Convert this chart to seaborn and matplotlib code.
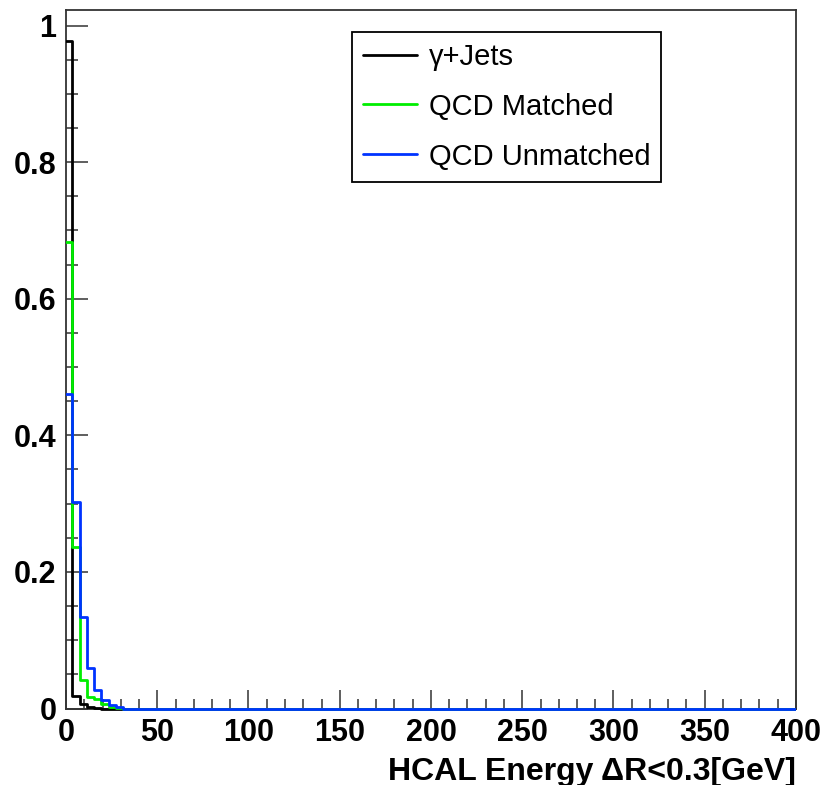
import numpy as np
import pandas as pd
import matplotlib
matplotlib.use("Agg")
import matplotlib.pyplot as plt
import seaborn as sns
from matplotlib.ticker import MultipleLocator
from matplotlib.lines import Line2D
from matplotlib.patches import Rectangle

# Normalised HCAL isolation energy distributions (fraction of events per 4 GeV bin)
sample_names = ["\u03b3+Jets", "QCD Matched", "QCD Unmatched"]
gamma_jets = [0.978, 0.018, 0.0066, 0.0026, 0.001]
qcd_matched = [0.683, 0.237, 0.042, 0.017, 0.0135, 0.0066, 0.0027, 0.001]
qcd_unmatched = [0.460, 0.303, 0.134, 0.059, 0.027, 0.0124, 0.005, 0.002]
line_colors = ["#000000", "#00ee00", "#0033ff"]

x_ticks = [0, 50, 100, 150, 200, 250, 300, 350, 400]
y_ticks = [0, 0.2, 0.4, 0.6, 0.8, 1]
x_label = "HCAL Energy \u0394R<0.3[GeV]"

# histogram binning
bin_width = 4.0
bin_start = -0.6
n_bins = 101
edges = bin_start + bin_width * np.arange(n_bins + 1)
centers = 0.5 * (edges[:-1] + edges[1:])


def padded(vals):
    out = np.zeros(n_bins)
    out[: len(vals)] = vals
    return out


frames = []
for name, vals in zip(sample_names, [gamma_jets, qcd_matched, qcd_unmatched]):
    frames.append(pd.DataFrame({"energy": centers, "fraction": padded(vals), "sample": name}))
df = pd.concat(frames, ignore_index=True)

sns.set_style("white")
plt.rcParams["font.family"] = ["Liberation Sans", "DejaVu Sans"]
plt.rcParams["text.color"] = "black"
plt.rcParams["axes.labelcolor"] = "black"
plt.rcParams["xtick.color"] = "black"
plt.rcParams["ytick.color"] = "black"

W, H = 827, 785
fig = plt.figure(figsize=(W / 100, H / 100), dpi=100)
left, right, top, bottom = 66, 796, 10, 708.5
ax = fig.add_axes([left / W, 1 - bottom / H, (right - left) / W, (bottom - top) / H])

for name, color in zip(sample_names, line_colors):
    sns.histplot(
        data=df[df["sample"] == name], x="energy", weights="fraction",
        bins=list(edges), element="step", fill=False, stat="count",
        color=color, linewidth=2.0, ax=ax,
    )

# let the zero-level part of the histograms sit on top of the frame
clip_rect = Rectangle((0, -0.01), 1, 1.02, transform=ax.transAxes, facecolor="none", edgecolor="none")
for ln in ax.lines:
    ln.set_clip_path(clip_rect)
    ln.set_zorder(3)

ax.set_xlim(0, 400)
ax.set_ylim(0, (bottom - top) / 683.0)

ax.set_xticks(x_ticks)
ax.set_xticklabels([str(t) for t in x_ticks])
ax.set_yticks(y_ticks)
ax.set_yticklabels(["0", "0.2", "0.4", "0.6", "0.8", "1"])
ax.xaxis.set_minor_locator(MultipleLocator(10))
ax.yaxis.set_minor_locator(MultipleLocator(0.05))

tick_family = ["Liberation Sans Narrow", "Liberation Sans"]
for lab in ax.get_xticklabels() + ax.get_yticklabels():
    lab.set_fontfamily(tick_family)
    lab.set_fontweight("bold")
    lab.set_fontsize(22)
    lab.set_color("black")

ax.tick_params(bottom=True, left=True, top=False, right=False, which="both")
ax.tick_params(axis="x", which="major", direction="in", length=14, width=1.1, color="#333333", pad=7)
ax.tick_params(axis="x", which="minor", direction="in", length=7, width=1.1, color="#333333")
ax.tick_params(axis="y", which="major", direction="in", length=16, width=1.1, color="#333333", pad=7)
ax.tick_params(axis="y", which="minor", direction="in", length=8.5, width=1.1, color="#333333")

for side in ax.spines.values():
    side.set_visible(True)
    side.set_color("#333333")
    side.set_linewidth(1.3)
    side.set_zorder(2.5)

ax.set_ylabel("")
ax.set_xlabel(x_label, loc="right", fontsize=23, fontweight="bold", labelpad=6, color="black")

handles = [Line2D([0], [0], color=c, linewidth=2.0) for c in line_colors]
leg = ax.legend(
    handles, sample_names, loc="upper left",
    bbox_to_anchor=(352 / W, 1 - 31.7 / H), bbox_transform=fig.transFigure,
    fontsize=21, frameon=True, fancybox=False, framealpha=1,
    edgecolor="black", borderpad=0.38, handlelength=1.85, handletextpad=0.4,
    labelspacing=0.75, borderaxespad=0,
)
leg.get_frame().set_linewidth(1.3)
leg.set_zorder(5)
for t in leg.get_texts():
    t.set_color("black")

fig.savefig("out.png", dpi=100)
